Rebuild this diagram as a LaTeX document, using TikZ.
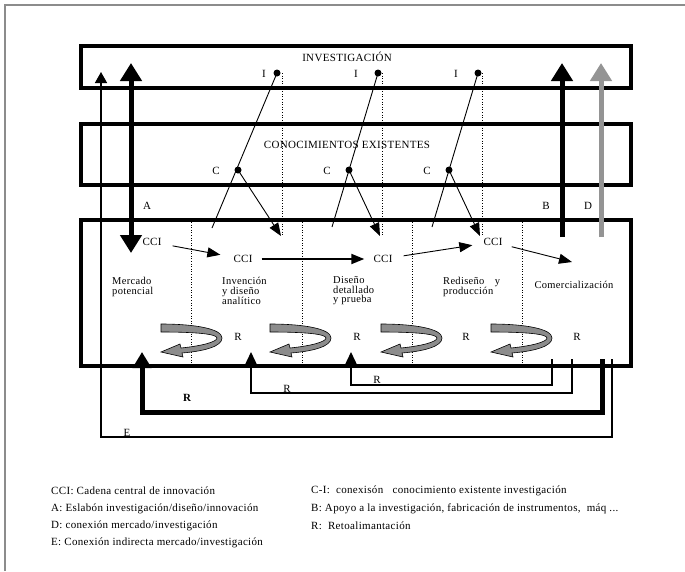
\documentclass[tikz,border=0pt]{standalone}
\usepackage{fontspec}
\setmainfont{Liberation Serif}[LetterSpace=3]
\usetikzlibrary{arrows.meta}

% grey ribbon that turns back (feedback inside a stage)
\tikzset{
  turnback/.pic={
    \draw[fill=black!45, line width=0.6pt]
      (0,0) .. controls (35,0) and (61,5) .. (61,14)
      .. controls (61,22) and (45,27) .. (21,29)
      -- (22,33) -- (0,28) -- (19,20) -- (20,24)
      .. controls (40,22) and (56,18) .. (56,14)
      .. controls (56,10) and (35,8) .. (0,8) -- cycle;
  }
}

\begin{document}
\begin{tikzpicture}[x=1pt, y=-1pt,
    band/.style={line width=4pt},
    sep/.style={dotted, line width=0.6pt},
    dot/.style={circle, fill, inner sep=0pt, minimum size=7pt},
    lbl/.style={inner sep=0pt, font=\fontsize{11}{13}\selectfont},
    stage/.style={inner sep=0pt, align=left, font=\fontsize{10.5}{9.5}\selectfont},
    cci/.style={inner sep=9pt, font=\fontsize{11}{13}\selectfont},
    legend/.style={inner sep=0pt, anchor=west, font=\fontsize{11}{13}\selectfont},
    small head/.style={-{Triangle[length=13pt, width=10pt]}, line width=0.9pt},
    big head/.style={-{Triangle[length=18pt, width=21pt]}, line width=5pt},
    fb head/.style={-{Triangle[length=12pt, width=11pt]}, line width=1.5pt}]
      \useasboundingbox (0,0) rectangle (685,571);
      \draw[black!45, line width=1.5pt] (5,571) -- (5,5) -- (685,5);

      % the three levels
      \draw[band] (81,46)  rectangle (631,88);
      \draw[band] (81,124) rectangle (631,185);
      \draw[band] (81,220) rectangle (631,366);
      \node[lbl] (inv) at (347, 57)  {INVESTIGACIÓN};
      \node[lbl] (con) at (347, 145) {CONOCIMIENTOS EXISTENTES};

      % stage limits
      \draw[sep] (191,222) -- (191,364);
      \draw[sep] (302,222) -- (302,364);
      \draw[sep] (412,222) -- (412,364);
      \draw[sep] (522,222) -- (522,364);
      \draw[sep] (282,73) -- (282,236);
      \draw[sep] (382,73) -- (382,236);
      \draw[sep] (482,73) -- (482,236);

      % research and knowledge links
      \node[lbl] (il1) at (264, 74)  {I};
      \node[lbl] (il2) at (356, 74)  {I};
      \node[lbl] (il3) at (456, 74)  {I};
      \node[lbl] (cl1) at (216, 171) {C};
      \node[lbl] (cl2) at (327, 171) {C};
      \node[lbl] (cl3) at (427, 171) {C};
      \node[dot] (i1) at (277, 73)  {};
      \node[dot] (i2) at (378, 73)  {};
      \node[dot] (i3) at (478, 73)  {};
      \node[dot] (c1) at (238, 170) {};
      \node[dot] (c2) at (349, 170) {};
      \node[dot] (c3) at (449, 170) {};
      \coordinate (e1) at (212, 228);
      \coordinate (e2) at (332, 227);
      \coordinate (e3) at (432, 227);
      \coordinate (t1) at (281, 236);
      \coordinate (t2) at (380, 236);
      \coordinate (t3) at (480, 236);
      \draw[line width=0.9pt] (i1.center) -- (e1) (i2.center) -- (e2) (i3.center) -- (e3);
      \draw[small head] (c1.center) -- (t1);
      \draw[small head] (c2.center) -- (t2);
      \draw[small head] (c3.center) -- (t3);

      % stages
      \node[stage, anchor=west] (mer) at (112, 287) {Mercado\\potencial};
      \node[stage, anchor=west] (inn) at (222, 291) {Invención\\y diseño\\analítico};
      \node[stage, anchor=west] (dis) at (333, 291) {Diseño\\detallado\\y prueba};
      \node[stage, anchor=west] (red) at (443, 287) {Rediseño\quad y\\producción};
      \node[stage] (com) at (574, 285) {Comercialización};

      % central chain
      \node[cci] (cci0) at (152, 242) {CCI};
      \node[cci] (cci1) at (243, 259) {CCI};
      \node[cci] (cci2) at (383, 259) {CCI};
      \node[cci] (cci3) at (493, 242) {CCI};
      \coordinate (ctip) at (572, 262);
      \draw[small head, shorten <=2pt, shorten >=4pt] (cci0) -- (cci1);
      \draw[small head, line width=2pt] (cci1) -- (cci2);
      \draw[small head, shorten <=2pt, shorten >=2pt] (cci2) -- (cci3);
      \draw[small head] (cci3) -- (ctip);

      % links A, B, D and E
      \coordinate (atop) at (131, 63);
      \coordinate (abot) at (131, 253);
      \draw[line width=5pt, arrows={Triangle[length=18pt, width=21pt]-Triangle[length=18pt, width=21pt]}]
          (abot) -- (atop);
      \coordinate (bfoot) at (562, 237);
      \coordinate (btop)  at (562, 63);
      \draw[big head] (bfoot) -- (btop);
      \coordinate (dfoot) at (601, 237);
      \coordinate (dtop)  at (601, 63);
      \draw[big head, black!42] (dfoot) -- (dtop);
      \node[lbl] (la) at (147, 206) {A};
      \node[lbl] (lb) at (546, 206) {B};
      \node[lbl] (ld) at (588, 206) {D};
      \coordinate (efoot) at (612, 359);
      \coordinate (etop)  at (101, 72);
      \draw[-{Triangle[length=11pt, width=12pt]}, line width=1.5pt]
          (efoot) -- (612,437) -| (etop);
      \node[lbl] (le) at (127, 433) {E};

      % feedback
      \pic at (161,324) {turnback};
      \pic at (270,324) {turnback};
      \pic at (381,324) {turnback};
      \pic at (491,324) {turnback};
      \node[lbl] (r1) at (238, 337) {R};
      \node[lbl] (r2) at (357, 337) {R};
      \node[lbl] (r3) at (466, 337) {R};
      \node[lbl] (r4) at (577, 337) {R};
      \coordinate (f1s) at (602, 359);
      \coordinate (f1e) at (142, 352);
      \coordinate (f2s) at (572, 359);
      \coordinate (f2e) at (251, 352);
      \coordinate (f3s) at (552, 359);
      \coordinate (f3e) at (351, 352);
      \draw[-{Triangle[length=16pt, width=18pt]}, line width=5pt]
          (f1s) -- (602,412) -| (f1e);
      \draw[fb head] (f2s) -- (572,393) -| (f2e);
      \draw[fb head] (f3s) -- (552,385) -| (f3e);
      \node[lbl, font=\bfseries\fontsize{11}{13}\selectfont] (rb) at (187, 398) {R};
      \node[lbl] (rf2) at (287, 389) {R};
      \node[lbl] (rf3) at (377, 380) {R};

      % legend
      \node[legend] (k1) at (51, 491)  {CCI: Cadena central de innovación};
      \node[legend] (k2) at (51, 509)  {A: Eslabón investigación/diseño/innovación};
      \node[legend] (k3) at (51, 526)  {D: conexión mercado/investigación};
      \node[legend] (k4) at (51, 543)  {E: Conexión indirecta mercado/investigación};
      \node[legend] (k5) at (311, 491) {C-I:\ \ conexisón\ \ \ conocimiento existente investigación};
      \node[legend] (k6) at (311, 509) {B: Apoyo a la investigación, fabricación de instrumentos,\ \ máq ...};
      \node[legend] (k7) at (311, 526) {R:\ \ Retoalimantación};
    \end{tikzpicture}
\end{document}
